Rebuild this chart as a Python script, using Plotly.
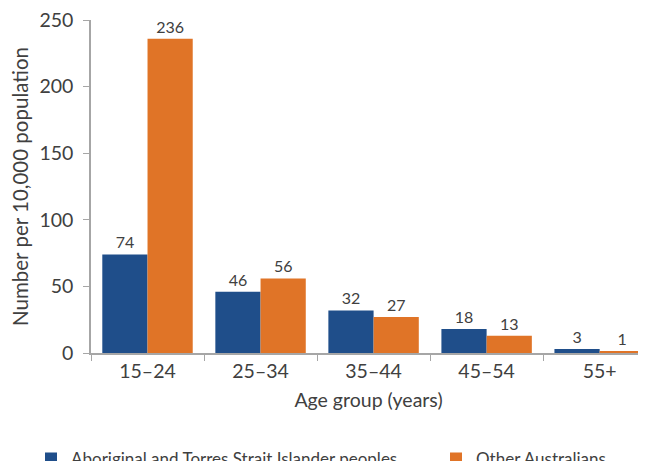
import plotly.graph_objects as go

categories = ["15–24", "25–34", "35–44", "45–54", "55+"]
indigenous = [74, 46, 32, 18, 3]
other = [236, 56, 27, 13, 1]
series_names = ["Aboriginal and Torres Strait Islander peoples", "Other Australians"]
colors = ["#1F4E8A", "#E07427"]
legend_ids = ["legend", "legend2"]

font_family = "Lato, 'Open Sans', sans-serif"
txt = "#404040"

fig = go.Figure()
for name, vals, col, lg in zip(series_names, [indigenous, other], colors, legend_ids):
    fig.add_trace(go.Bar(
        x=categories, y=vals, name=name, marker_color=col,
        marker_line_width=0, legend=lg,
        text=[str(v) for v in vals], textposition="outside",
        textfont=dict(size=16, color=txt, family=font_family),
        cliponaxis=False,
    ))

legend_common = dict(orientation="h", yref="container", y=0.022, yanchor="middle",
                     xref="container", xanchor="left",
                     font=dict(size=17, color=txt, family=font_family),
                     itemwidth=30, bgcolor="rgba(0,0,0,0)")

fig.update_layout(
    width=646, height=461,
    margin=dict(l=83, r=8, t=12, b=116, autoexpand=False),
    paper_bgcolor="white", plot_bgcolor="white",
    barmode="group", bargap=0.2, bargroupgap=0,
    font=dict(family=font_family, color=txt, size=16),
    showlegend=True,
    legend=dict(x=23 / 646, **legend_common),
    legend2=dict(x=428 / 646, **legend_common),
)
fig.update_xaxes(
    range=[-0.5, 4.41], showline=True, linecolor="#A6A6A6", linewidth=1.5,
    ticks="outside", tickson="boundaries", ticklen=6, tickcolor="#A6A6A6",
    showgrid=False, tickfont=dict(size=19.5, color=txt),
    title=dict(text="Age group (years)", font=dict(size=19.5, color=txt), standoff=12),
)
fig.update_yaxes(
    range=[0, 250], dtick=50, showline=True, linecolor="#A6A6A6", linewidth=1.5,
    ticks="outside", ticklen=6, tickcolor="#A6A6A6", showgrid=False, zeroline=False,
    tickfont=dict(size=19.5, color=txt), ticklabeloverflow="allow", ticklabelstandoff=6,
    title=dict(text="Number per 10,000 population", font=dict(size=20.5, color=txt), standoff=6),
)

fig.write_html("out.html")
